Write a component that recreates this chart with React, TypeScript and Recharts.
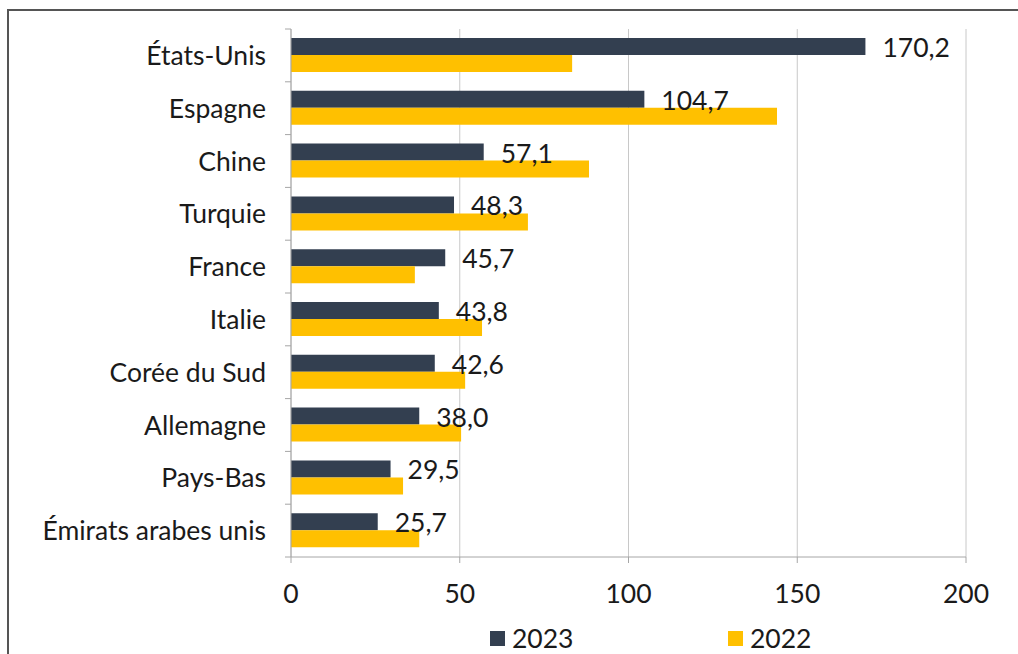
import React from "react";
import {
  Bar,
  BarChart,
  CartesianGrid,
  LabelList,
  XAxis,
  YAxis,
} from "recharts";

const categories = [
  "États-Unis",
  "Espagne",
  "Chine",
  "Turquie",
  "France",
  "Italie",
  "Corée du Sud",
  "Allemagne",
  "Pays-Bas",
  "Émirats arabes unis",
];
const values2023 = [170.2, 104.7, 57.1, 48.3, 45.7, 43.8, 42.6, 38.0, 29.5, 25.7];
const values2022 = [83.3, 144.0, 88.3, 70.2, 36.7, 56.6, 51.6, 50.4, 33.2, 38.0];
const xTicks = [0, 50, 100, 150, 200];
const seriesNames = ["2023", "2022"];

const data = categories.map((name, i) => ({
  name,
  y2023: values2023[i],
  y2022: values2022[i],
}));

const W = 1018;
const H = 654;
const X_AXIS_H = 30;
// plot spans y 29..557; the x axis height is taken from the bottom as well
const MARGIN = { top: 29, right: 52, bottom: 97 - X_AXIS_H, left: 0 };
const Y_AXIS_W = 291;
const PLOT_H = 528;
const FONT = "Lato, 'Open Sans', sans-serif";
const FS = 26.5;
const TEXT = "#1a1a1a";
const AXIS = "#a6a6a6";
const DARK = "#333f50";
const GOLD = "#ffc000";

const fmt = (v: number) => v.toFixed(1).replace(".", ",");

function CategoryTick(props: any) {
  const { x, y, payload, index } = props;
  const half = payload?.offset ?? PLOT_H / categories.length / 2;
  const axisX = Y_AXIS_W;
  return (
    <g>
      <line x1={axisX - 6} x2={axisX} y1={y - half} y2={y - half} stroke={AXIS} />
      {index === categories.length - 1 && (
        <line x1={axisX - 6} x2={axisX} y1={y + half} y2={y + half} stroke={AXIS} />
      )}
      <text
        x={x - 17}
        y={y + 9.5}
        textAnchor="end"
        fontSize={FS}
        fontFamily={FONT}
        fill={TEXT}
      >
        {payload.value}
      </text>
    </g>
  );
}

function ValueLabel(props: any) {
  const { x, y, width, height, value } = props;
  return (
    <text
      x={x + width + 17}
      y={y + height / 2 + 10.5}
      fontSize={FS}
      fontFamily={FONT}
      fill={TEXT}
    >
      {fmt(value)}
    </text>
  );
}

function ChartLegend() {
  const items = [
    { label: seriesNames[0], color: DARK, left: 490 },
    { label: seriesNames[1], color: GOLD, left: 728 },
  ];
  return (
    <>
      {items.map((it) => (
        <div
          key={it.label}
          style={{
            position: "absolute",
            left: it.left,
            top: 623,
            height: 30,
            display: "flex",
            alignItems: "center",
            fontFamily: FONT,
            fontSize: FS,
            color: TEXT,
            lineHeight: "30px",
          }}
        >
          <span
            style={{
              display: "inline-block",
              width: 15,
              height: 15,
              background: it.color,
              marginRight: 7,
            }}
          />
          {it.label}
        </div>
      ))}
    </>
  );
}

export default function App() {
  return (
    <>
      <div
        style={{
          position: "absolute",
          left: 7,
          top: 9,
          width: W - 7,
          height: H - 9,
          borderTop: "2px solid #555",
          borderLeft: "2px solid #555",
          boxSizing: "border-box",
          background: "#fff",
        }}
      />
      <div style={{ position: "absolute", left: 0, top: 0, width: W, height: H }}>
        <BarChart
          width={W}
          height={H}
          data={data}
          layout="vertical"
          margin={MARGIN}
          barGap={0}
          barSize={17}
        >
          <CartesianGrid horizontal={false} stroke="#c8c8c8" />
          <XAxis
            type="number"
            domain={[0, 200]}
            ticks={xTicks}
            height={X_AXIS_H}
            stroke={AXIS}
            tickSize={6}
            tickMargin={21}
            tick={{ fontSize: FS, fontFamily: FONT, fill: TEXT }}
          />
          <YAxis
            type="category"
            dataKey="name"
            width={Y_AXIS_W}
            stroke={AXIS}
            tickLine={false}
            tick={<CategoryTick />}
            interval={0}
          />
          <Bar dataKey="y2023" name={seriesNames[0]} fill={DARK} isAnimationActive={false}>
            <LabelList dataKey="y2023" content={<ValueLabel />} />
          </Bar>
          <Bar dataKey="y2022" name={seriesNames[1]} fill={GOLD} isAnimationActive={false} />
        </BarChart>
        <ChartLegend />
      </div>
    </>
  );
}
